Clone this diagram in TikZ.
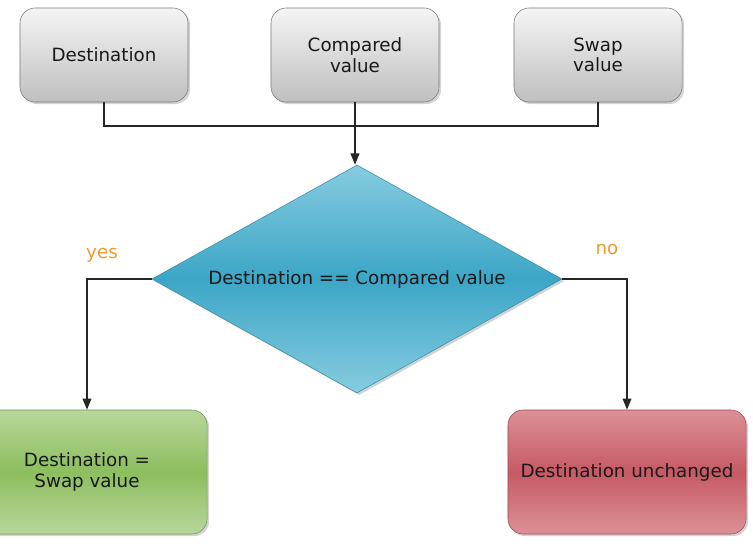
\documentclass[tikz,border=0pt]{standalone}
\usepackage{fontspec}
\setmainfont{DejaVu Sans}
\usepackage{xcolor}
\usepackage{tikz}
\usetikzlibrary{arrows,arrows.meta,positioning,shapes.geometric,shadows}

\definecolor{grayline}{HTML}{7A7A7A}
\definecolor{diamtop}{HTML}{86CCE0}
\definecolor{diammid}{HTML}{3CA6C6}
\definecolor{diamline}{HTML}{3A8FAA}
\definecolor{oktop}{HTML}{B7D79C}
\definecolor{okmid}{HTML}{8DBE5E}
\definecolor{okline}{HTML}{6E9A48}
\definecolor{notop}{HTML}{DC9097}
\definecolor{nomid}{HTML}{C65A64}
\definecolor{noline}{HTML}{A24C55}
\definecolor{lblorange}{HTML}{EE9A2C}

\tikzset{
  txt/.style={font=\fontsize{13}{14.5}\selectfont, align=center, text=black!90},
  inbox/.style={txt, draw=grayline, rounded corners=0.38cm,
    minimum width=4.2cm, minimum height=2.35cm,
    top color=gray!8, bottom color=gray!50,
    drop shadow={opacity=0.35, shadow xshift=1.5pt, shadow yshift=-1.5pt}},
  test/.style={txt, diamond, draw=diamline, inner sep=0pt, shape aspect=1.8,
    minimum width=10.25cm, minimum height=5.7cm,
    top color=diamtop, bottom color=diamtop, middle color=diammid,
    drop shadow={opacity=0.35, shadow xshift=1.5pt, shadow yshift=-1.5pt}},
  outbox/.style={txt, rounded corners=0.38cm, minimum height=3.1cm,
    drop shadow={opacity=0.35, shadow xshift=1.5pt, shadow yshift=-1.5pt}},
  lbl/.style={font=\fontsize{13}{14}\selectfont, text=lblorange},
  wire/.style={line width=0.9pt, black!85},
  tip/.style={-{Triangle[length=2.8mm,width=2.2mm]}}
}

\begin{document}
\begin{tikzpicture}[x=0.025cm, y=-0.025cm]
\useasboundingbox (0,0) rectangle (753,545);
\clip (0,0) rectangle (753,545);

% inputs
\node[inbox] (dest) at (104,55) {Destination};
\node[inbox] (comp) at (355,55) {Compared\\value};
\node[inbox] (swap) at (598,55) {Swap\\value};

% comparison
\node[test] (cmp) at (357,279) {Destination == Compared value};

% results
\node[outbox, draw=okline, minimum width=6cm,
  top color=oktop, bottom color=oktop, middle color=okmid] (ok) at (87,472) {Destination =\\Swap value};
\node[outbox, draw=noline, minimum width=5.95cm,
  top color=notop, bottom color=notop, middle color=nomid] (keep) at (627,472) {Destination unchanged};

\coordinate (join) at (355,126);
\draw[wire] (dest.south) |- (join) -| (swap.south);
\draw[wire,tip] (comp.south) -- (comp.south |- cmp.north);
\draw[wire,tip] (cmp.west) -| (ok.north);
\draw[wire,tip] (cmp.east) -| (keep.north);

\node[lbl] (yes) at (102,255) {yes};
\node[lbl] (no) at (607,250) {no};
\end{tikzpicture}
\end{document}
